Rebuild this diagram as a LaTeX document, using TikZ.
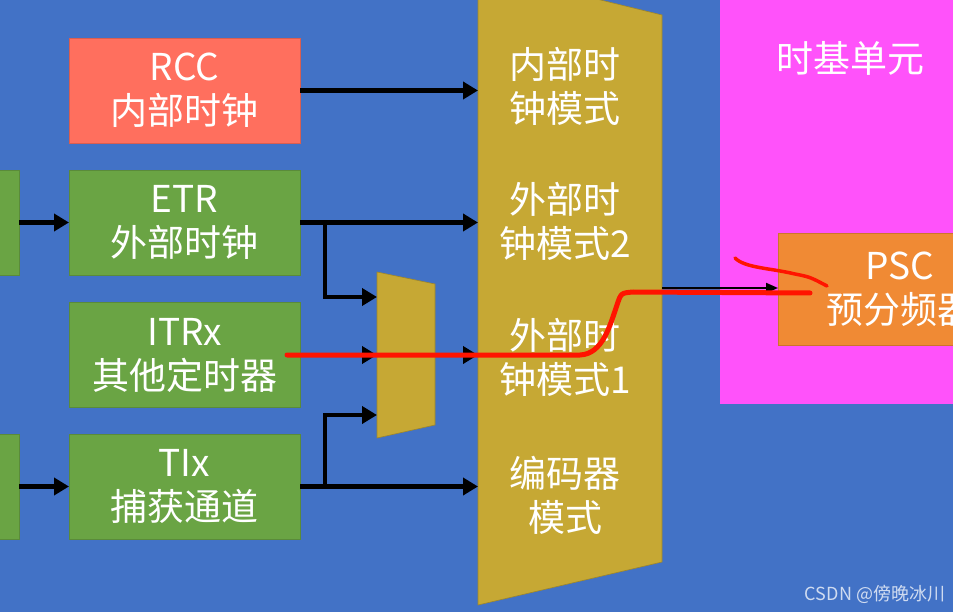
\documentclass[tikz,border=0pt]{standalone}
\usepackage{fontspec}
\newfontfamily\cjk{Noto Sans CJK SC}
\usetikzlibrary{arrows.meta}
\definecolor{bgblue}{RGB}{66,114,198}
\definecolor{rccred}{RGB}{255,111,94}
\definecolor{srcgreen}{RGB}{106,164,68}
\definecolor{muxgold}{RGB}{198,168,52}
\definecolor{tbmagenta}{RGB}{255,82,250}
\definecolor{pscorange}{RGB}{240,138,52}
\definecolor{penred}{RGB}{255,20,0}
\begin{document}
\begin{tikzpicture}[x = 1pt, y = -1pt,
	blk/.style = {draw = #1!85!black, line width = .8pt, fill = #1, minimum width = 231pt, minimum height = 105pt,
		inner sep = 0pt, outer sep = 0pt, text = white, align = center, font = \cjk\fontsize{37}{44}\selectfont},
	lbl/.style = {text = white, align = center, inner sep = 0pt, font = \cjk\fontsize{37}{44}\selectfont},
	arr/.style = {line width = 4.5pt, -{Triangle[length = 15pt, width = 17pt]}},
	thinarr/.style = {line width = 2pt, -{Triangle[length = 12pt, width = 10pt]}},
	pen/.style = {draw = penred, line width = 5pt, line cap = round, line join = round}]
	\useasboundingbox (0,0) rectangle (953,612);
	\clip (0,0) rectangle (953,612);
	\fill[bgblue] (0,0) rectangle (953,612); %background

	% time base unit
	\fill[tbmagenta] (720,-5) rectangle (960,404);
	\node[lbl] (tbu) at (850,58) {时基单元};
	\node[blk = pscorange, minimum width = 244pt, minimum height = 112pt] (psc) at (900,289) {PSC\\预分频器};

	% mode select
	\filldraw[fill = muxgold, draw = muxgold!80!black, line width = .6pt] (478,-30) -- (662,15) -- (662,562) -- (478,605) -- cycle;
	\filldraw[fill = muxgold, draw = muxgold!80!black, line width = .6pt] (377,272) -- (435,284) -- (435,425) -- (377,438) -- cycle;
	\coordinate (muxl) at (478,0);
	\coordinate (smuxl) at (377,0);
	\coordinate (smin1) at (377,297);
	\coordinate (smin3) at (377,415);
	\coordinate (smuxr) at (435,355);
	\coordinate (muxout) at (662,288);
	\node[lbl] (modeint) at (565,86) {内部时\\钟模式};
	\node[lbl] (modeext2) at (565,221) {外部时\\钟模式2};
	\node[lbl] (modeext1) at (565,357) {外部时\\钟模式1};
	\node[lbl] (modeenc) at (565,495) {编码器\\模式};

	% clock sources
	\node[blk = rccred] (rcc) at (184.5,90.5) {RCC\\内部时钟};
	\node[blk = srcgreen] (etr) at (184.5,222.5) {ETR\\外部时钟};
	\node[blk = srcgreen] (itrx) at (184.5,355) {ITRx\\其他定时器};
	\node[blk = srcgreen] (tix) at (184.5,486.5) {TIx\\捕获通道};
	\node[blk = srcgreen, minimum width = 40pt] (etrsrc) at (-1,222.5) {};
	\node[blk = srcgreen, minimum width = 40pt] (tisrc) at (-1,486.5) {};
	\coordinate (etrsplit) at ([xshift = 25pt]etr.east);
	\coordinate (tisplit) at ([xshift = 25pt]tix.east);

	\draw[arr] (etrsrc.east) -- (etr.west);
	\draw[arr] (tisrc.east) -- (tix.west);
	\draw[arr] (rcc.east) -- (rcc.east -| muxl);
	\draw[arr] (etr.east) -- (etr.east -| muxl);
	\draw[arr] (etrsplit) |- (smin1);
	\draw[arr] (itrx.east) -- (itrx.east -| smuxl);
	\draw[arr] (smuxr) -- (smuxr -| muxl);
	\draw[arr] (tix.east) -- (tix.east -| muxl);
	\draw[arr] (tisplit) |- (smin3);
	\draw[thinarr] (muxout) -- (muxout -| psc.west);

	% hand drawn
	\draw[pen] (287,355) -- (580,355) .. controls (603,354) and (610,325) .. (617,305) .. controls (621,293) .. (633,292) -- (810,293);
	\draw[pen, line width = 3.5pt] (735,258) .. controls (745,268) and (770,268) .. (795,274) .. controls (810,277) .. (827,286);

	\node[text = white, opacity = .75, inner sep = 0pt, font = \cjk\fontsize{18}{20}\selectfont] (mark) at (875,594) {CSDN @傍晚冰川};
\end{tikzpicture}
\end{document}
